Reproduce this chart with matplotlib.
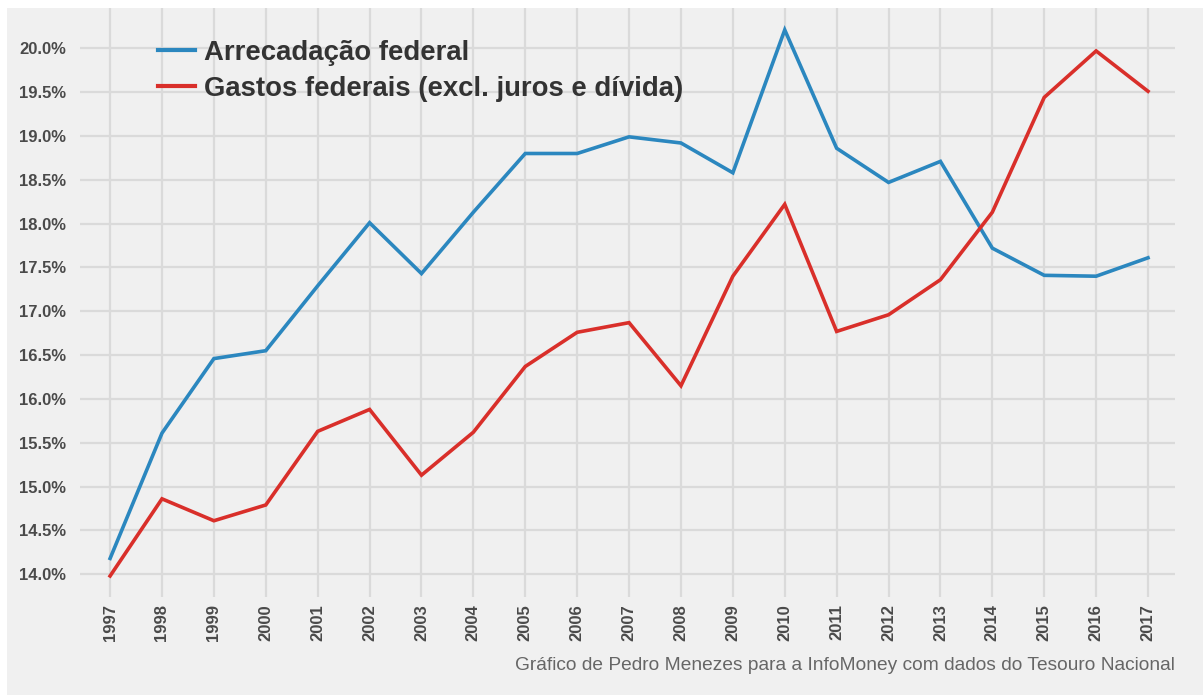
import matplotlib
matplotlib.use("Agg")
import matplotlib.pyplot as plt
from matplotlib.patches import Rectangle
from matplotlib.ticker import FuncFormatter

years = list(range(1997, 2018))
arrecadacao = [14.18, 15.61, 16.46, 16.55, 17.29, 18.01, 17.43, 18.13, 18.80, 18.80,
               18.99, 18.92, 18.58, 20.21, 18.86, 18.47, 18.71, 17.72, 17.41, 17.40, 17.61]
gastos = [13.98, 14.86, 14.61, 14.79, 15.63, 15.88, 15.13, 15.62, 16.37, 16.76,
          16.87, 16.15, 17.40, 18.22, 16.77, 16.96, 17.36, 18.13, 19.44, 19.97, 19.51]
yticks = [14.0, 14.5, 15.0, 15.5, 16.0, 16.5, 17.0, 17.5, 18.0, 18.5, 19.0, 19.5, 20.0]
labels = ["Arrecadação federal", "Gastos federais (excl. juros e dívida)"]
caption = "Gráfico de Pedro Menezes para a InfoMoney com dados do Tesouro Nacional"

bg = "#f0f0f0"
fig = plt.figure(figsize=(12.03, 6.95), dpi=100, facecolor="white")
fig.patches.append(Rectangle((7/1203, 0), 1, 1 - 8/695, transform=fig.transFigure,
                             facecolor=bg, edgecolor="none", zorder=-10))
ax = fig.add_axes([80/1203, 1 - 597/695, (1175-80)/1203, (597-8)/695])
ax.set_facecolor(bg)

ax.plot(years, arrecadacao, color="#2b87bf", lw=2.6, label=labels[0], solid_joinstyle="miter")
ax.plot(years, gastos, color="#d92f2a", lw=2.6, label=labels[1], solid_joinstyle="miter")

ax.set_xlim(1996.42, 2017.52)
ax.set_ylim(13.74, 20.46)
ax.set_xticks(years)
ax.set_xticklabels([str(y) for y in years], rotation=90)
ax.set_yticks(yticks)
ax.yaxis.set_major_formatter(FuncFormatter(lambda v, p: f"{v:.1f}%"))
for s in ax.spines.values():
    s.set_visible(False)
ax.grid(True, color="#dadada", lw=1.6)
ax.set_axisbelow(True)
ax.tick_params(axis="both", length=0, labelcolor="#4a4a4a", labelsize=12)
ax.tick_params(axis="y", pad=10)
ax.tick_params(axis="x", pad=5)
for t in ax.get_xticklabels() + ax.get_yticklabels():
    t.set_fontfamily("Liberation Sans")
    t.set_fontweight("bold")

leg = ax.legend(loc="upper left", bbox_to_anchor=((158-80)/1095, 1 - (40-8)/589),
                frameon=False, borderpad=0, borderaxespad=0,
                prop={"family": "Liberation Sans", "weight": "bold", "size": 19.8},
                handlelength=1.33, handletextpad=0.36, labelspacing=0.35)
for t in leg.get_texts():
    t.set_color("#333333")
for l in leg.get_lines():
    l.set_linewidth(3)

fig.text(1175/1203, 1 - 665/695, caption, ha="right", va="center",
         fontfamily="Liberation Sans", fontsize=13.8, color="#666666")

fig.savefig("out.png", dpi=100, facecolor=fig.get_facecolor())
